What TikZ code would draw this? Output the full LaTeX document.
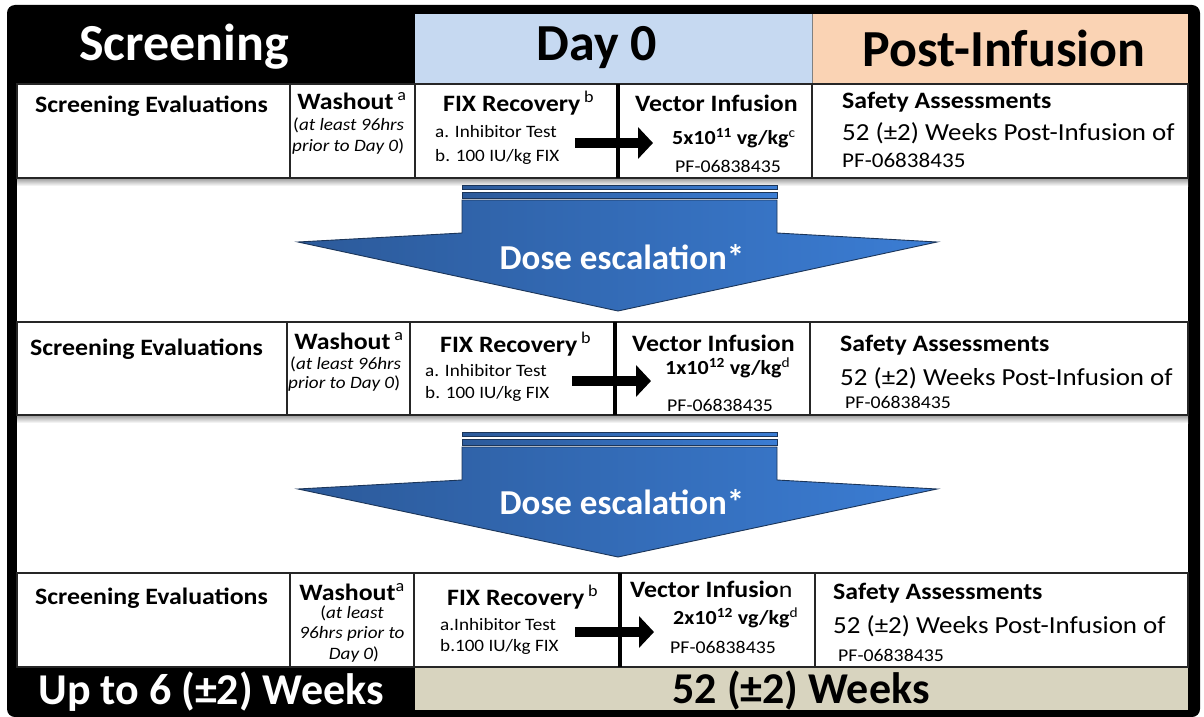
\documentclass[tikz,border=0pt]{standalone}
\usepackage{fontspec}
\setmainfont{Carlito}
\newfontfamily\cellfont{Carlito}[FakeStretch=1.1]
\usetikzlibrary{arrows.meta}
\definecolor{dayblue}{HTML}{C6D9F1}
\definecolor{peach}{HTML}{FAD3B4}
\definecolor{beige}{HTML}{D8D4BF}
\definecolor{arrdark}{HTML}{2C5A9A}
\definecolor{arrlight}{HTML}{3B7DD4}
\definecolor{arrline}{HTML}{1B3559}
\tikzset{
  rowbox/.style={draw=black!85, line width=1.2pt, fill=white},
  thindiv/.style={draw=black!85, line width=1.2pt},
  thickdiv/.style={draw=black, line width=3.5pt},
  hdr/.style={font=\bfseries\fontsize{52}{54}\selectfont, inner sep=0pt},
  foot/.style={font=\bfseries\fontsize{44}{46}\selectfont, inner sep=0pt},
  ttl/.style={font=\cellfont\bfseries\fontsize{23.5}{26}\selectfont, inner sep=0pt},
  sub/.style={font=\cellfont\fontsize{17.4}{20}\selectfont, inner sep=0pt},
  dose/.style={font=\cellfont\bfseries\fontsize{20}{22}\selectfont, inner sep=0pt},
  big/.style={font=\cellfont\fontsize{24.5}{27}\selectfont, inner sep=0pt},
  pf/.style={font=\cellfont\fontsize{18}{20}\selectfont, inner sep=0pt},
  blockarrow/.style={draw=arrline, line width=0.9pt, left color=arrdark, right color=arrlight},
  doselbl/.style={font=\bfseries\fontsize{35}{37}\selectfont, text=white, inner sep=0pt},
  fixarrow/.style={line width=10pt, -{Triangle[length=15pt,width=31pt]}},
  rowshadow/.style={top color=black!40, bottom color=white, draw=none}
}
\begin{document}
\begin{tikzpicture}[x=1pt,y=-1pt]
\useasboundingbox (0,0) rectangle (1204,717);
\fill[white] (0,0) rectangle (1204,717);
% outer frame
\fill[black, rounded corners=8pt] (7,5) rectangle (1200,717);
\fill[white] (17,83) rectangle (1188,667);
% headers
\fill[dayblue] (415,14) rectangle (812,83);
\fill[peach] (812,14) rectangle (1188,83);
\draw[black!50, line width=0.8pt] (812,14) -- (812,83);
\node[hdr, text=white] (hscr) at (184,47) {Screening};
\node[hdr] (hday) at (597,48) {Day 0};
\node[hdr] (hpost) at (1004,48) {Post-Infusion};
% footer
\fill[beige] (415,667) rectangle (1188,710);
\node[foot, text=white] (fscr) at (211,692) {Up to 6 (±2) Weeks};
\node[foot] (fpost) at (801,690) {52 (±2) Weeks};

% ---------- row 1 ----------
\shade[rowshadow] (17,178) rectangle (1188,186);
\draw[rowbox] (17,84) rectangle (1188,178);
\draw[thindiv] (290,84) -- (290,178);
\draw[thindiv] (415,84) -- (415,178);
\draw[thindiv] (812,84) -- (812,178);
\draw[thickdiv] (618,84) -- (618,178);
\node[ttl, anchor=west] (se1) at (35,106) {Screening Evaluations};
\node[ttl] (wo1) at (352,101) {Washout\,\textsuperscript{\mdseries a}};
\node[sub, anchor=west] (wa1) at (293,125) {(\textit{at least 96hrs}};
\node[sub, anchor=west] (wb1) at (292,147) {\textit{prior to Day 0})};
\node[ttl, anchor=west] (fx1) at (443,103) {FIX Recovery\,\textsuperscript{\mdseries b}};
\node[sub, anchor=west] (fa1) at (435,132) {a. Inhibitor Test};
\node[sub, anchor=west] (fb1) at (435,157) {b. 100 IU/kg FIX};
\node[ttl, anchor=west] (vi1) at (635,103) {Vector Infusion};
\node[dose, anchor=west] (vd1) at (672,138) {5x10\textsuperscript{11} vg/kg\textsuperscript{\mdseries c}};
\node[pf, anchor=west] (vp1) at (675,166) {PF-06838435};
\node[ttl, anchor=west] (sa1) at (842,102) {Safety Assessments};
\node[big, anchor=west] (sw1) at (842,133) {52 (±2) Weeks Post-Infusion of};
\node[pf, anchor=west, font=\cellfont\fontsize{21}{23}\selectfont] (sp1) at (842,160) {PF-06838435};
\coordinate (a1s) at (575,143);
\coordinate (a1e) at (653,143);
\draw[fixarrow] (a1s) -- (a1e);

% ---------- arrow 1 ----------
\draw[blockarrow] (462,185) rectangle (777,189);
\draw[blockarrow] (462,192) rectangle (777,198);
\draw[blockarrow] (462,200) -- (777,200) -- (777,233) -- (937,242) -- (618,311) -- (298,242) -- (462,233) -- cycle;
\node[doselbl] (de1) at (622,257) {Dose escalation*};

% ---------- row 2 ----------
\shade[rowshadow] (17,415) rectangle (1188,423);
\draw[rowbox] (17,322) rectangle (1188,415);
\draw[thindiv] (287,322) -- (287,415);
\draw[thindiv] (410,322) -- (410,415);
\draw[thindiv] (810,322) -- (810,415);
\draw[thickdiv] (615,322) -- (615,415);
\node[ttl, anchor=west] (se2) at (30,349) {Screening Evaluations};
\node[ttl] (wo2) at (349,341) {Washout\,\textsuperscript{\mdseries a}};
\node[sub, anchor=west] (wa2) at (290,364) {(\textit{at least 96hrs}};
\node[sub, anchor=west] (wb2) at (288,384) {\textit{prior to Day 0})};
\node[ttl, anchor=west] (fx2) at (440,344) {FIX Recovery\,\textsuperscript{\mdseries b}};
\node[sub, anchor=west] (fa2) at (425,371) {a. Inhibitor Test};
\node[sub, anchor=west] (fb2) at (425,394) {b. 100 IU/kg FIX};
\node[ttl, anchor=west] (vi2) at (632,343) {Vector Infusion};
\node[dose, anchor=west] (vd2) at (665,368) {1x10\textsuperscript{12} vg/kg\textsuperscript{\mdseries d}};
\node[pf, anchor=west] (vp2) at (667,405) {PF-06838435};
\node[ttl, anchor=west] (sa2) at (840,345) {Safety Assessments};
\node[big, anchor=west] (sw2) at (840,378) {52 (±2) Weeks Post-Infusion of};
\node[pf, anchor=west] (sp2) at (845,402) {PF-06838435};
\coordinate (a2s) at (572,381);
\coordinate (a2e) at (651,381);
\draw[fixarrow] (a2s) -- (a2e);

% ---------- arrow 2 ----------
\draw[blockarrow] (462,432) rectangle (777,436);
\draw[blockarrow] (462,439) rectangle (777,445);
\draw[blockarrow] (462,447) -- (777,447) -- (777,480) -- (937,489) -- (618,557) -- (298,489) -- (462,480) -- cycle;
\node[doselbl] (de2) at (622,502) {Dose escalation*};

% ---------- row 3 ----------
\draw[rowbox] (17,573) rectangle (1188,667);
\draw[thindiv] (290,573) -- (290,667);
\draw[thindiv] (414,573) -- (414,667);
\draw[thindiv] (815,573) -- (815,667);
\draw[thickdiv] (620,573) -- (620,667);
\node[ttl, anchor=west] (se3) at (35,598) {Screening Evaluations};
\node[ttl] (wo3) at (352,592) {Washout\textsuperscript{\mdseries a}};
\node[sub] (wa3) at (352,613) {(\textit{at least}};
\node[sub] (wb3) at (352,634) {\textit{96hrs prior to}};
\node[sub] (wc3) at (354,655) {\textit{Day 0})};
\node[ttl, anchor=west] (fx3) at (447,597) {FIX Recovery\,\textsuperscript{\mdseries b}};
\node[sub, anchor=west] (fa3) at (440,625) {a.Inhibitor Test};
\node[sub, anchor=west] (fb3) at (440,647) {b.100 IU/kg FIX};
\node[ttl, anchor=west] (vi3) at (630,589) {Vector Infusio{\mdseries n}};
\node[dose, anchor=west] (vd3) at (673,618) {2x10\textsuperscript{12} vg/kg\textsuperscript{\mdseries d}};
\node[pf, anchor=west] (vp3) at (670,647) {PF-06838435};
\node[ttl, anchor=west] (sa3) at (833,593) {Safety Assessments};
\node[big, anchor=west] (sw3) at (833,626) {52 (±2) Weeks Post-Infusion of};
\node[pf, anchor=west] (sp3) at (838,655) {PF-06838435};
\coordinate (a3s) at (575,632);
\coordinate (a3e) at (654,632);
\draw[fixarrow] (a3s) -- (a3e);
\end{tikzpicture}
\end{document}
